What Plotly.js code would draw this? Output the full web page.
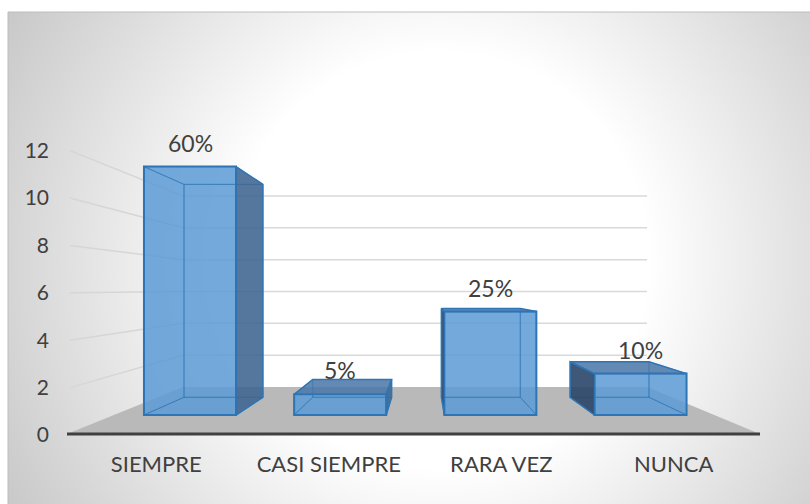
<!DOCTYPE html>
<html>
<head>
<meta charset="utf-8">
<script src="https://cdn.plot.ly/plotly-3.0.1.min.js"></script>
<style>
  html, body { margin: 0; padding: 0; background: #ffffff; }
  #chart { width: 810px; height: 504px; }
</style>
</head>
<body>
<div id="chart"></div>
<script>
// ---------------- data ----------------
const categories = ['SIEMPRE', 'CASI SIEMPRE', 'RARA VEZ', 'NUNCA'];
const values = [12, 1, 5, 2];
const pctLabels = ['60%', '5%', '25%', '10%'];
const yTicks = [0, 2, 4, 6, 8, 10, 12];

// ---------------- layout helpers ----------------
const W = 810, H = 504;
const px = x => x / W;          // pixel x -> paper
const py = y => 1 - y / H;      // pixel y -> paper

const FONT = 'Lato, "Open Sans", sans-serif';
const TXT = '#404040';

// pseudo-3D view parameters (in bar-axis units)
const VP = { x: 1.558, y: 5.99 };   // vanishing point
const S = 0.857;                    // depth scale of back faces
const BARW = 0.613;
const HW = BARW / 2;

// front scale for bars: 0 at y=415px, 20.7 px per unit ; centres 190 + 150.17*i
const UX = 150.17, X0 = 190, UY = 20.7, Y0 = 415;

// wall scales (decoration)
const leftWall = { x: 70, y0: 435, k: 23.7 };
const backWall = { x0: 183, x1: 647, y0: 387, k: 15.92 };

// ---------------- background gradient ----------------
const svg = '<svg xmlns="http://www.w3.org/2000/svg" width="802" height="492" viewBox="0 0 802 492">' +
  '<defs><radialGradient id="g" gradientUnits="userSpaceOnUse" cx="432" cy="248" r="520">' +
  '<stop offset="0" stop-color="#ffffff"/><stop offset="0.4" stop-color="#ffffff"/>' +
  '<stop offset="1" stop-color="#c4c4c4"/></radialGradient></defs>' +
  '<rect x="0" y="0" width="802" height="492" fill="url(#g)"/></svg>';
const bgURI = 'data:image/svg+xml;charset=utf-8,' + encodeURIComponent(svg);

// ---------------- shapes (floor, walls, axis line) ----------------
const shapes = [];
shapes.push({
  type: 'rect', xref: 'paper', yref: 'paper', layer: 'below',
  x0: px(8), x1: px(812), y0: py(12), y1: py(506),
  line: { color: '#bdbdbd', width: 1 }, fillcolor: 'rgba(0,0,0,0)'
});
// floor
shapes.push({
  type: 'path', xref: 'paper', yref: 'paper', layer: 'below',
  path: `M ${px(67)} ${py(434)} L ${px(760)} ${py(434)} L ${px(backWall.x1)} ${py(backWall.y0)} L ${px(backWall.x0)} ${py(backWall.y0)} Z`,
  fillcolor: '#b9b9b9', line: { width: 0 }
});
// wall gridlines
yTicks.filter(v => v > 0).forEach(v => {
  const yb = backWall.y0 - v * backWall.k;
  const yl = leftWall.y0 - v * leftWall.k;
  shapes.push({
    type: 'line', xref: 'paper', yref: 'paper', layer: 'below',
    x0: px(backWall.x0), x1: px(backWall.x1), y0: py(yb), y1: py(yb),
    line: { color: '#d9d9d9', width: 1.5 }
  });
  shapes.push({
    type: 'line', xref: 'paper', yref: 'paper', layer: 'below',
    x0: px(leftWall.x), x1: px(backWall.x0), y0: py(yl), y1: py(yb),
    line: { color: '#d6d6d6', width: 1.5 }
  });
});
// category axis line
shapes.push({
  type: 'line', xref: 'paper', yref: 'paper', layer: 'below',
  x0: px(67), x1: px(760), y0: py(434), y1: py(434),
  line: { color: '#404040', width: 3 }
});

// ---------------- traces ----------------
const traces = [];

// anchor trace for the label axes
traces.push({
  type: 'scatter', x: categories, y: categories.map(() => null),
  xaxis: 'x', yaxis: 'y', mode: 'markers', hoverinfo: 'skip', showlegend: false
});

// front faces of the bars
traces.push({
  type: 'bar', x: categories.map((c, i) => i), y: values, width: BARW,
  xaxis: 'x2', yaxis: 'y2',
  marker: { color: 'rgba(91,155,213,0.85)', line: { color: 'rgb(46,117,182)', width: 2 } },
  hoverinfo: 'skip', showlegend: false
});

// side / top / back faces computed from the values
const back = p => [VP.x + S * (p[0] - VP.x), VP.y + S * (p[1] - VP.y)];
const hidden = [], shown = [];
values.forEach((v, i) => {
  const FL = [i - HW, 0], FR = [i + HW, 0], TL = [i - HW, v], TR = [i + HW, v];
  const BL = back(FL), BR = back(FR), BTL = back(TL), BTR = back(TR);
  const faces = [
    { pts: [BL, BR, BTR, BTL], vis: false, col: null },
    { pts: [FL, TL, BTL, BL], vis: FL[0] > VP.x, col: 'rgba(42,70,104,0.9)' },
    { pts: [FR, TR, BTR, BR], vis: FR[0] < VP.x, col: 'rgba(62,100,145,0.88)' },
    { pts: [TL, TR, BTR, BTL], vis: v < VP.y, col: 'rgba(72,118,168,0.85)' },
    { pts: [FL, FR, BR, BL], vis: 0 > VP.y, col: 'rgba(72,118,168,0.85)' }
  ];
  faces.forEach(f => {
    const xs = f.pts.map(p => p[0]).concat([f.pts[0][0]]);
    const ys = f.pts.map(p => p[1]).concat([f.pts[0][1]]);
    const tr = {
      type: 'scatter', mode: 'lines', x: xs, y: ys, xaxis: 'x2', yaxis: 'y2',
      hoverinfo: 'skip', showlegend: false
    };
    if (f.vis) {
      tr.fill = 'toself'; tr.fillcolor = f.col;
      tr.line = { color: 'rgb(46,117,182)', width: 1.5 };
      shown.push(tr);
    } else {
      tr.line = { color: 'rgba(46,117,182,0.55)', width: 1 };
      hidden.push(tr);
    }
  });
});
traces.push(...hidden, ...shown);

// data labels
const annotations = values.map((v, i) => ({
  x: i, y: v, xref: 'x2', yref: 'y2', text: pctLabels[i], showarrow: false,
  yshift: 24, yanchor: 'middle', xanchor: 'center',
  font: { family: FONT, size: 23, color: TXT }
}));

const layout = {
  width: W, height: H,
  margin: { l: 0, r: 0, t: 0, b: 0 },
  paper_bgcolor: '#ffffff',
  plot_bgcolor: 'rgba(0,0,0,0)',
  showlegend: false,
  font: { family: FONT, color: TXT },
  images: [{
    source: bgURI, xref: 'paper', yref: 'paper',
    x: px(8), y: py(12), sizex: (W - 8) / W, sizey: (H - 12) / H,
    xanchor: 'left', yanchor: 'top', sizing: 'stretch', layer: 'below'
  }],
  xaxis: {
    type: 'category', categoryorder: 'array', categoryarray: categories,
    domain: [px(70), px(760)], range: [-0.5, 3.5], anchor: 'y',
    showline: false, showgrid: false, zeroline: false, ticks: '',
    ticklabelstandoff: 14,
    tickfont: { family: FONT, size: 22, color: TXT }, fixedrange: true
  },
  yaxis: {
    domain: [py(435), py(150.5)], range: [0, 12], anchor: 'x',
    tickmode: 'array', tickvals: yTicks, ticktext: yTicks.map(String),
    showline: false, showgrid: false, zeroline: false, ticks: '',
    ticklabelstandoff: 20,
    tickfont: { family: FONT, size: 21, color: TXT }, fixedrange: true
  },
  xaxis2: {
    domain: [0, 1], anchor: 'y2', visible: false,
    range: [-X0 / UX, (W - X0) / UX], fixedrange: true
  },
  yaxis2: {
    domain: [0, 1], anchor: 'x2', visible: false,
    range: [-(H - Y0) / UY, Y0 / UY], fixedrange: true
  },
  shapes: shapes,
  annotations: annotations
};

Plotly.newPlot('chart', traces, layout, { displayModeBar: false, staticPlot: true });
</script>
</body>
</html>
